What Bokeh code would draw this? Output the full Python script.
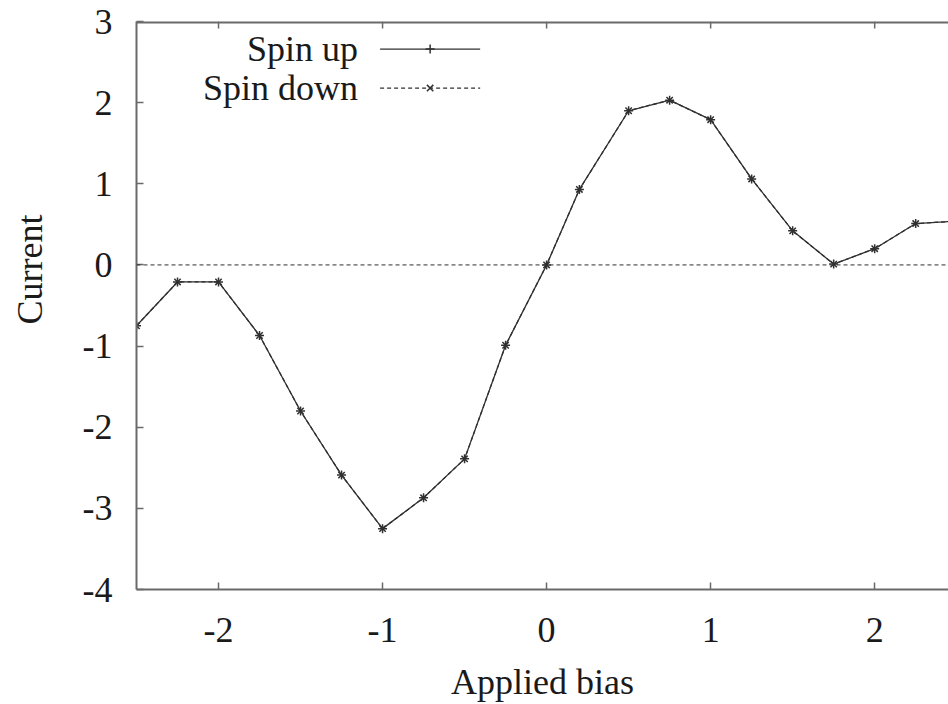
import math
from bokeh.plotting import figure
from bokeh.models import (Range1d, FixedTicker, LinearAxis, Span, Label)
from bokeh.embed import file_html
from bokeh.resources import INLINE

# ---- data ----
bias = [-2.5, -2.25, -2.0, -1.75, -1.5, -1.25, -1.0, -0.75, -0.5, -0.25,
        0.0, 0.2, 0.5, 0.75, 1.0, 1.25, 1.5, 1.75, 2.0, 2.25, 2.5]
spin_up = [-0.75, -0.21, -0.21, -0.87, -1.80, -2.59, -3.25, -2.87, -2.39, -0.99,
           0.0, 0.93, 1.90, 2.03, 1.79, 1.06, 0.42, 0.01, 0.20, 0.51, 0.54]
spin_down = [-0.75, -0.21, -0.21, -0.87, -1.80, -2.59, -3.25, -2.87, -2.39, -0.99,
             0.0, 0.93, 1.90, 2.03, 1.79, 1.06, 0.42, 0.01, 0.20, 0.51, 0.54]
x_ticks = [-2, -1, 0, 1, 2]
y_ticks = [-4, -3, -2, -1, 0, 1, 2, 3]
series_names = ["Spin up", "Spin down"]
x_title = "Applied bias"
y_title = "Current"

FONT = "Times New Roman, Liberation Serif, serif"
FS = "36px"
LINE = "#303030"
FRAME = "#6a6a6a"
TXT = "#1a1a1a"

X0, X1, Y0, Y1 = -2.5, 2.45, -4, 3

p = figure(width=948, height=704, output_backend="svg", toolbar_location=None,
           x_range=Range1d(X0, X1), y_range=Range1d(Y0, Y1),
           x_axis_location=None, y_axis_location=None,
           min_border_left=136, min_border_right=0,
           min_border_top=21, min_border_bottom=115)
p.outline_line_color = None
p.grid.visible = False
p.background_fill_color = "white"
p.border_fill_color = "white"

def style_axis(ax):
    ax.axis_line_color = FRAME
    ax.axis_line_width = 2
    ax.major_tick_in = 7
    ax.major_tick_out = 0
    ax.major_tick_line_color = FRAME
    ax.major_tick_line_width = 1.5
    ax.minor_tick_line_color = None
    ax.major_label_text_font = FONT
    ax.major_label_text_color = TXT
    ax.major_label_text_font_size = FS
    ax.axis_label_text_font = FONT
    ax.axis_label_text_font_size = FS
    ax.axis_label_text_font_style = "normal"
    ax.axis_label_text_color = TXT

xb = LinearAxis(ticker=FixedTicker(ticks=x_ticks),
                major_label_overrides={t: str(t) for t in x_ticks})
style_axis(xb)
xb.major_label_standoff = 28
xb.axis_label = x_title
xb.axis_label_standoff = 17
p.add_layout(xb, "below")

yl = LinearAxis(ticker=FixedTicker(ticks=y_ticks),
                major_label_overrides={t: str(t) for t in y_ticks})
style_axis(yl)
yl.major_label_standoff = 24
# leading no-break spaces lift the centred title a little, as in the reference
yl.axis_label = "\u00a0" * 8 + y_title
yl.axis_label_standoff = 30
p.add_layout(yl, "left")

# top border with mirrored ticks
p.add_layout(Span(location=Y1, dimension="width", line_color=FRAME, line_width=4))
tick_len = 7 * (Y1 - Y0) / 567
p.segment(x0=x_ticks, y0=[Y1] * len(x_ticks), x1=x_ticks,
          y1=[Y1 - tick_len] * len(x_ticks), line_color=FRAME, line_width=1.5)

# zero axis
p.add_layout(Span(location=0, dimension="width", line_color=LINE,
                  line_dash="4 3", line_width=1))

# data series
p.line(bias, spin_down, line_color=LINE, line_width=1.3, line_dash="4 3")
p.scatter(bias, spin_down, marker="x", size=9, line_color=LINE, line_width=1.5)
p.line(bias, spin_up, line_color=LINE, line_width=1.3)
p.scatter(bias, spin_up, marker="cross", size=9, line_color=LINE, line_width=1.5)

# gnuplot-style key (text on the left, sample on the right)
key_text_x = -1.15
key_x0, key_x1 = -1.015, -0.405
key_rows = [2.66, 2.18]
key_dash = [None, "4 3"]
key_marker = ["cross", "x"]
for name, ky, dash, mk in zip(series_names, key_rows, key_dash, key_marker):
    p.add_layout(Label(x=key_text_x, y=ky, text=name, text_font=FONT,
                       text_font_size=FS, text_color=TXT,
                       text_align="right", text_baseline="middle"))
    kw = dict(line_color=LINE, line_width=1.3)
    if dash:
        kw["line_dash"] = dash
    p.line([key_x0, key_x1], [ky, ky], **kw)
    p.scatter([(key_x0 + key_x1) / 2], [ky], marker=mk, size=9,
              line_color=LINE, line_width=1.5)

open("out.html", "w").write(file_html(p, INLINE))
